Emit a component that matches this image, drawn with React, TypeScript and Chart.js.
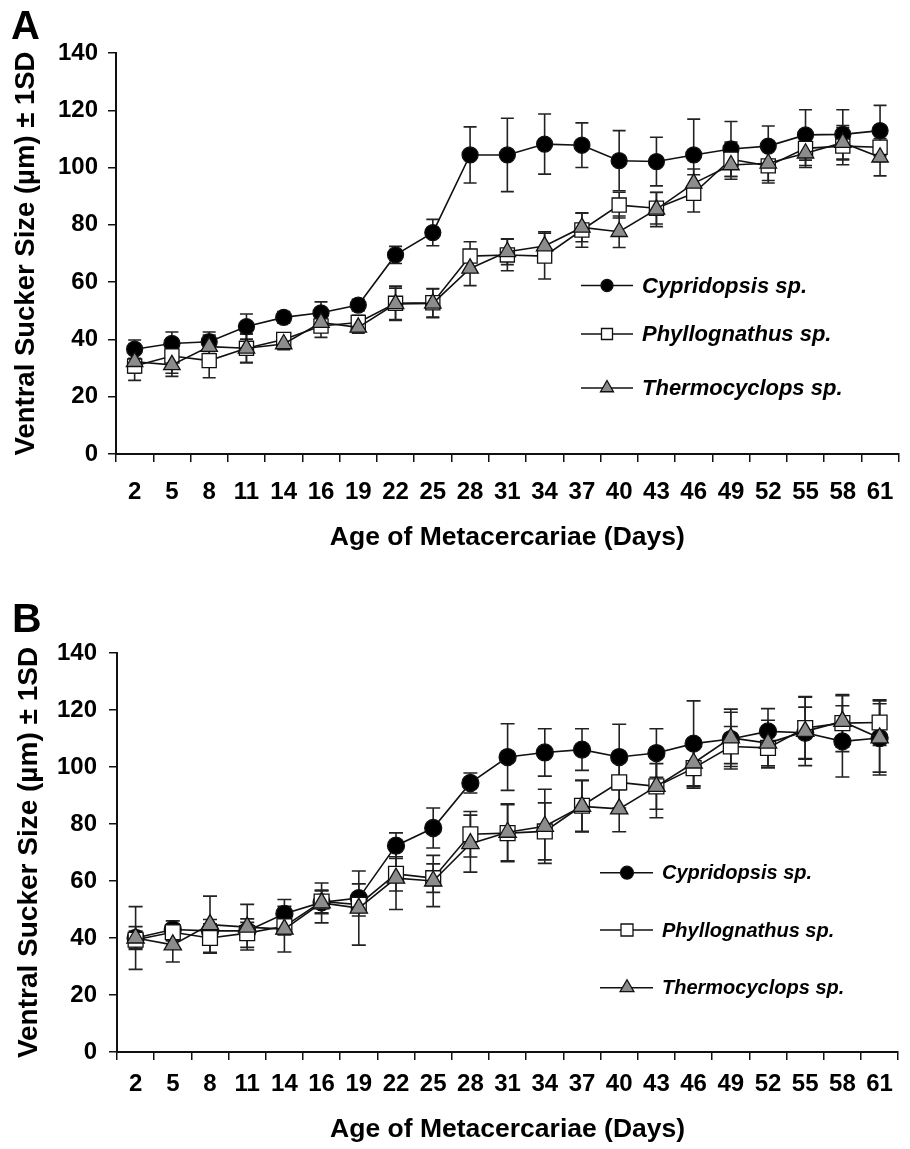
import React, { useEffect, useRef } from "react";
import { Chart, registerables } from "chart.js";

Chart.register(...registerables);

// ---------- data ----------
const ageDays = ["2", "5", "8", "11", "14", "16", "19", "22", "25", "28", "31", "34", "37", "40", "43", "46", "49", "52", "55", "58", "61"];
const seriesNames = ["Cypridopsis sp.", "Phyllognathus sp.", "Thermocyclops sp."];

// Panel A
const aCypridopsis = [36.6, 38.6, 39.2, 44.5, 47.7, 49.3, 52.0, 69.5, 77.3, 104.4, 104.4, 108.2, 107.8, 102.4, 102.1, 104.4, 106.5, 107.5, 111.4, 111.6, 112.9];
const aCypridopsisSD = [3.2, 4, 3.4, 4.4, 2, 3.8, 2, 3, 4.6, 9.8, 12.8, 10.5, 7.8, 10.5, 8.5, 12.5, 9.6, 7, 8.8, 8.6, 8.8];
const aPhyllognathus = [30.7, 34.2, 32.6, 36.9, 40.0, 44.7, 45.9, 52.6, 52.8, 69.1, 69.5, 69.1, 78.2, 86.9, 85.8, 91.0, 102.9, 100.6, 106.7, 107.5, 107.1];
const aPhyllognathusSD = [5, 6, 6, 5, 2, 4, 2.5, 6, 5, 5, 5.5, 8, 6, 4.5, 5.5, 6.5, 6, 6, 6, 6.5, 5];
const aThermocyclops = [32.2, 31.1, 37.5, 36.9, 38.4, 45.9, 44.2, 52.4, 52.6, 64.8, 70.6, 72.6, 79.1, 77.6, 85.4, 94.5, 100.9, 101.5, 105.0, 108.7, 103.6];
const aThermocyclopsSD = [4, 4, 4, 5, 2, 3, 2, 5.5, 5, 6, 4.5, 5, 5, 5.5, 6, 5, 5, 6, 5, 6, 6.5];

// Panel B
const bCypridopsis = [40, 43, 42.5, 42.5, 48.5, 52.5, 54, 72.4, 78.6, 94.4, 103.5, 105.1, 106.1, 103.5, 104.9, 108.2, 109.8, 112.5, 112, 109, 110.2];
const bCypridopsisSD = [4, 3, 4, 3, 5, 4, 5, 4.5, 7, 3.5, 11.7, 8.3, 7.3, 11.5, 8.5, 15, 10.5, 8, 9, 12.5, 12];
const bPhyllognathus = [39.4, 42.0, 40.0, 41.7, 44.1, 52.8, 51.7, 62.5, 61.0, 76.4, 76.8, 77.4, 86.4, 94.6, 93.2, 99.6, 107.2, 106.7, 113.7, 115.4, 115.6];
const bPhyllognathusSD = [3, 3, 5, 5, 3, 4, 4, 6, 5, 8, 10, 10, 9, 9, 8, 7, 7, 7, 11, 10, 8];
const bThermocyclops = [40.0, 37.6, 44.7, 43.8, 43.1, 52.3, 50.5, 61, 60, 73.1, 77.1, 79.2, 86.2, 85.3, 93.2, 101.4, 110.2, 108.4, 112.5, 116, 110.2];
const bThermocyclopsSD = [11, 6, 10, 8, 8, 7, 13, 11, 9, 10, 10, 13, 9, 8, 11, 8, 9, 8, 12, 9, 13];

const yMin = 0;
const yMax = 140;
const yStep = 20;

const xTitle = "Age of Metacercariae (Days)";
const yTitle = "Ventral Sucker Size (µm) ± 1SD";

// ---------- styles ----------
const FONT = '"Liberation Sans", Arial, sans-serif';
const INK = "#111";
const markerStyles = [
  { pointStyle: "circle", fill: "#000" },
  { pointStyle: "rect", fill: "#fff" },
  { pointStyle: "triangle", fill: "#8c8c8c" },
];

function drawMarker(ctx: CanvasRenderingContext2D, style: string, x: number, y: number, size: number, fill: string) {
  ctx.save();
  ctx.beginPath();
  if (style === "circle") {
    ctx.arc(x, y, size, 0, Math.PI * 2);
  } else if (style === "rect") {
    ctx.rect(x - size, y - size, size * 2, size * 2);
  } else {
    const r = size;
    ctx.moveTo(x, y - r);
    ctx.lineTo(x + r * 0.866, y + r / 2);
    ctx.lineTo(x - r * 0.866, y + r / 2);
    ctx.closePath();
  }
  ctx.fillStyle = fill;
  ctx.fill();
  ctx.lineWidth = 1.3;
  ctx.strokeStyle = INK;
  ctx.stroke();
  ctx.restore();
}

const errorBarPlugin = {
  id: "errorBars",
  beforeDatasetsDraw(chart: any, _args: any, opts: any) {
    const ctx = chart.ctx as CanvasRenderingContext2D;
    const yScale = chart.scales.y;
    const cap = opts.cap || 6.5;
    ctx.save();
    ctx.strokeStyle = "#222";
    ctx.lineWidth = opts.lineWidth || 1.6;
    chart.data.datasets.forEach((ds: any, i: number) => {
      const meta = chart.getDatasetMeta(i);
      meta.data.forEach((pt: any, j: number) => {
        const v = ds.data[j];
        const s = ds.sd[j];
        const yt = yScale.getPixelForValue(v + s);
        const yb = yScale.getPixelForValue(v - s);
        const x = pt.x;
        ctx.beginPath();
        ctx.moveTo(x, yt);
        ctx.lineTo(x, yb);
        ctx.moveTo(x - cap, yt);
        ctx.lineTo(x + cap, yt);
        ctx.moveTo(x - cap, yb);
        ctx.lineTo(x + cap, yb);
        ctx.stroke();
      });
    });
    ctx.restore();
  },
};

const overlayPlugin = {
  id: "overlay",
  afterDraw(chart: any, _args: any, opts: any) {
    const ctx = chart.ctx as CanvasRenderingContext2D;
    ctx.save();
    // panel letter
    ctx.fillStyle = "#000";
    ctx.font = `bold ${opts.letterSize}px ${FONT}`;
    ctx.textBaseline = "alphabetic";
    ctx.textAlign = "left";
    ctx.fillText(opts.letter, opts.letterX, opts.letterY);
    // legend
    const lg = opts.legend;
    chart.data.datasets.forEach((ds: any, i: number) => {
      const y = lg.rows[i];
      ctx.beginPath();
      ctx.strokeStyle = INK;
      ctx.lineWidth = 1.6;
      ctx.moveTo(lg.x0, y);
      ctx.lineTo(lg.x1, y);
      ctx.stroke();
      const ms = markerStyles[i];
      drawMarker(ctx, ms.pointStyle, lg.mx, y, lg.sizes[i], ms.fill);
      ctx.fillStyle = "#000";
      ctx.font = `italic bold ${lg.fontSize}px ${FONT}`;
      ctx.textBaseline = "middle";
      ctx.textAlign = "left";
      ctx.fillText(ds.label, lg.tx, y + 1);
    });
    ctx.restore();
  },
};

type PanelProps = {
  letter: string;
  height: number;
  series: number[][];
  sds: number[][];
  g: any;
};

function Panel({ letter, height, series, sds, g }: PanelProps) {
  const ref = useRef<HTMLCanvasElement>(null);
  useEffect(() => {
    const tickFont = { family: FONT, size: g.tickSize, weight: "bold" as const };
    const titleFont = { family: FONT, size: g.titleSize, weight: "bold" as const };
    const yTitleFont = { family: FONT, size: g.yTitleSize, weight: "bold" as const };
    const chart = new Chart(ref.current as HTMLCanvasElement, {
      type: "line",
      data: {
        labels: ageDays,
        datasets: series.map((d, i) => ({
          label: seriesNames[i],
          data: d,
          sd: sds[i],
          borderColor: INK,
          borderWidth: 1.6,
          backgroundColor: markerStyles[i].fill,
          pointStyle: markerStyles[i].pointStyle,
          pointRadius: g.pointRadius[i],
          pointHoverRadius: g.pointRadius[i],
          pointBackgroundColor: markerStyles[i].fill,
          pointBorderColor: INK,
          pointBorderWidth: 1.3,
          tension: 0,
          fill: false,
          order: 2 - i,
          clip: false,
        })) as any,
      },
      options: {
        responsive: false,
        animation: false,
        devicePixelRatio: 1,
        events: [],
        layout: { padding: { top: g.padTop, right: g.padRight, bottom: 0, left: 0 } },
        plugins: {
          legend: { display: false },
          tooltip: { enabled: false },
          errorBars: { cap: g.cap, lineWidth: 1.6 },
          overlay: {
            letter,
            letterSize: g.letterSize,
            letterX: g.letterX,
            letterY: g.letterY,
            legend: g.legend,
          },
        } as any,
        scales: {
          x: {
            type: "category",
            offset: true,
            grid: { offset: true, drawOnChartArea: false, drawTicks: true, tickLength: 8, color: INK, lineWidth: 1.5 },
            border: { color: INK, width: 2 },
            ticks: { font: tickFont, color: "#000", padding: g.xTickPad, maxRotation: 0, autoSkip: false },
            title: { display: true, text: xTitle, font: titleFont, color: "#000", padding: { top: 0, bottom: g.xTitlePad } },
            afterFit(s: any) {
              s.height = g.xAxisHeight;
            },
          },
          y: {
            min: yMin,
            max: yMax,
            ticks: { stepSize: yStep, font: tickFont, color: "#000", padding: g.yTickPad },
            grid: { drawOnChartArea: false, drawTicks: true, tickLength: 8, color: INK, lineWidth: 1.5 },
            border: { color: INK, width: 2 },
            title: { display: true, text: yTitle, font: yTitleFont, color: "#000", padding: { top: g.yTitlePad, bottom: 0 } },
            afterFit(s: any) {
              s.width = g.yAxisWidth;
            },
          },
        },
      },
      plugins: [errorBarPlugin, overlayPlugin],
    } as any);
    return () => chart.destroy();
  }, []);
  return <canvas ref={ref} width={910} height={height} style={{ display: "block", width: 910, height }} />;
}

const geomA = {
  padTop: 53,
  padRight: 7,
  xAxisHeight: 121,
  yAxisWidth: 116,
  tickSize: 24,
  titleSize: 26.5,
  yTitleSize: 27.5,
  xTickPad: 16,
  xTitlePad: 21,
  yTickPad: 10,
  yTitlePad: 10,
  pointRadius: [8, 10, 9.5],
  cap: 6.5,
  letterSize: 40,
  letterX: 11,
  letterY: 39,
  legend: { x0: 581, x1: 633, mx: 607, tx: 642, rows: [285.5, 334, 388], fontSize: 22, sizes: [6, 5.5, 7.5] },
};

const geomB = {
  padTop: 78,
  padRight: 0,
  xAxisHeight: 97,
  yAxisWidth: 117,
  tickSize: 24,
  titleSize: 26.5,
  yTitleSize: 28,
  xTickPad: 10,
  xTitlePad: 3,
  yTickPad: 12,
  yTitlePad: 12.5,
  pointRadius: [8.5, 10.5, 10],
  cap: 7,
  letterSize: 41,
  letterX: 12,
  letterY: 57,
  legend: { x0: 600, x1: 653, mx: 627, tx: 662, rows: [297.7, 355, 412.7], fontSize: 20, sizes: [6.5, 6, 8] },
};

export default function App() {
  useEffect(() => {
    document.body.style.margin = "0";
  }, []);
  return (
    <div style={{ width: 910, height: 1149, background: "#fff" }}>
      <Panel
        letter="A"
        height={575}
        series={[aCypridopsis, aPhyllognathus, aThermocyclops]}
        sds={[aCypridopsisSD, aPhyllognathusSD, aThermocyclopsSD]}
        g={geomA}
      />
      <Panel
        letter="B"
        height={574}
        series={[bCypridopsis, bPhyllognathus, bThermocyclops]}
        sds={[bCypridopsisSD, bPhyllognathusSD, bThermocyclopsSD]}
        g={geomB}
      />
    </div>
  );
}
